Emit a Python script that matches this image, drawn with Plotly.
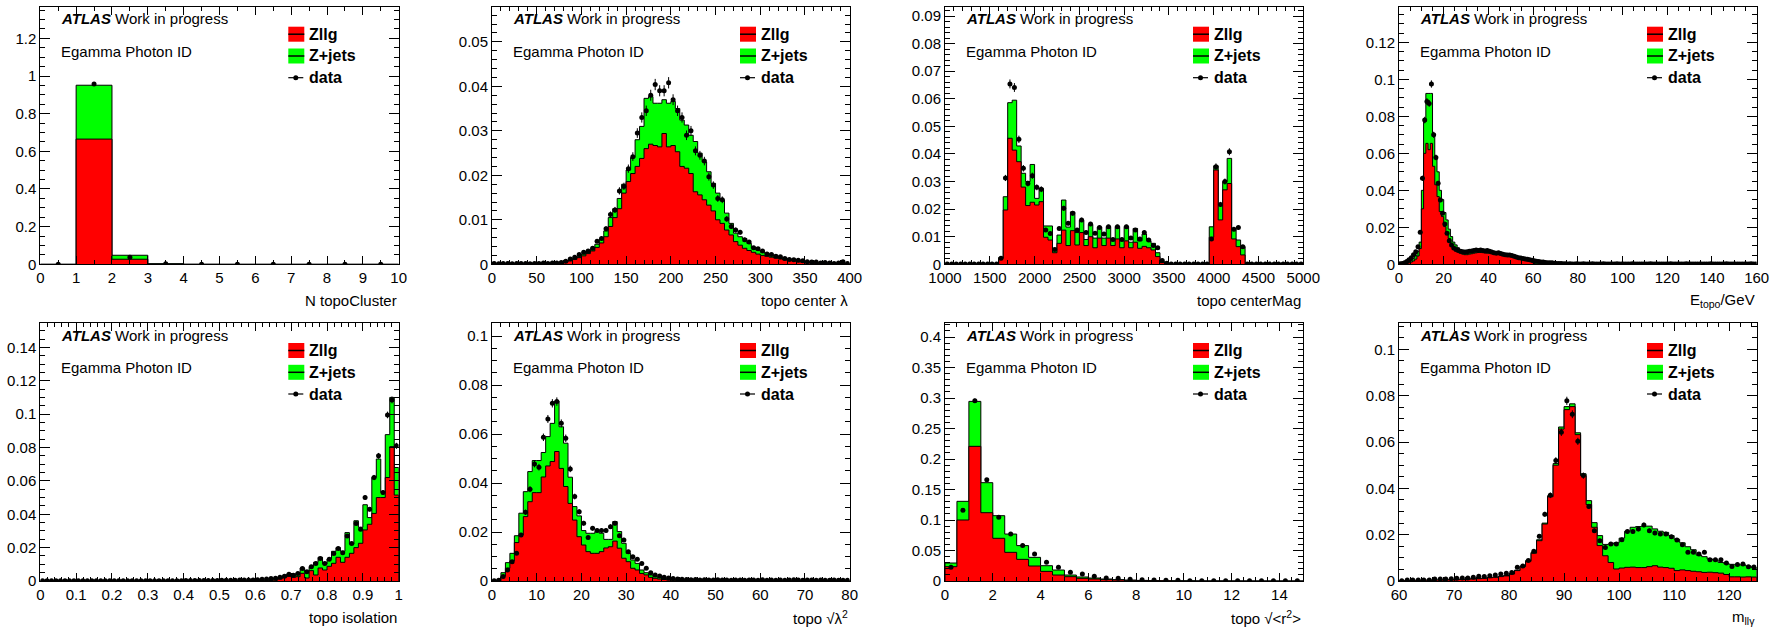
import numpy as np
import plotly.graph_objects as go

FONT = "Liberation Sans, Arial, Helvetica, sans-serif"
W, H = 1781, 628
N_EVENTS = 25000  # effective event count used for the data error bars

# ---------------- N topoCluster (bins of 1, 0..10) ----------------
NCLUS_ZLLG = [0.0, 0.665, 0.027, 0.002, 0.0, 0.0, 0.0, 0.0, 0.0, 0.0]
NCLUS_STACK = [0.0, 0.951, 0.048, 0.003, 0.0003, 0.0, 0.0, 0.0, 0.0, 0.0]
NCLUS_DATA = [0.0, 0.957, 0.038, 0.003, 0.0004, 0.0, 0.0, 0.0, 0.0, 0.0]

# ---------------- topo center lambda (bins of 5, 0..400) ----------------
LAM_ZLLG = [
    0.0, 0.0, 0.0, 0.0, 0.0, 0.0, 0.0, 0.0, 0.0001, 0.0001,
    0.0001, 0.0001, 0.0001, 0.0002, 0.0002, 0.0003, 0.0005, 0.0008, 0.0011, 0.0015,
    0.0019, 0.0024, 0.0030, 0.0038, 0.0048, 0.0062, 0.0085, 0.0105, 0.0125, 0.0160,
    0.0186, 0.0204, 0.0220, 0.0238, 0.0260, 0.0270, 0.0267, 0.0264, 0.0294, 0.0264,
    0.0267, 0.0253, 0.0220, 0.0216, 0.0204, 0.0163, 0.0156, 0.0145, 0.0133, 0.0120,
    0.0100, 0.0092, 0.0077, 0.0066, 0.0051, 0.0043, 0.0036, 0.0031, 0.0027, 0.0023,
    0.0020, 0.0018, 0.0016, 0.0014, 0.0012, 0.0010, 0.0009, 0.0008, 0.0006, 0.0005,
    0.0004, 0.0003, 0.0003, 0.0002, 0.0002, 0.0001, 0.0001, 0.0001, 0.0001, 0.0001]
LAM_STACK = [
    0.0001, 0.0001, 0.0001, 0.0001, 0.0001, 0.0001, 0.0001, 0.0001, 0.0001, 0.0001,
    0.0002, 0.0002, 0.0002, 0.0002, 0.0003, 0.0004, 0.0006, 0.0009, 0.0013, 0.0017,
    0.0023, 0.0028, 0.0034, 0.0045, 0.0057, 0.0075, 0.0105, 0.0125, 0.0148, 0.0180,
    0.0212, 0.0240, 0.0280, 0.0310, 0.0373, 0.0377, 0.0362, 0.0362, 0.0370, 0.0362,
    0.0366, 0.0350, 0.0324, 0.0313, 0.0290, 0.0276, 0.0250, 0.0230, 0.0208, 0.0182,
    0.0160, 0.0145, 0.0115, 0.0092, 0.0070, 0.0062, 0.0058, 0.0047, 0.0036, 0.0032,
    0.0028, 0.0024, 0.0021, 0.0018, 0.0015, 0.0013, 0.0012, 0.0010, 0.0009, 0.0007,
    0.0006, 0.0005, 0.0004, 0.0004, 0.0003, 0.0003, 0.0002, 0.0002, 0.0002, 0.0001]
LAM_DATA = [
    0.0002, 0.0001, 0.0002, 0.0002, 0.0001, 0.0002, 0.0002, 0.0002, 0.0001, 0.0002,
    0.0002, 0.0003, 0.0002, 0.0003, 0.0003, 0.0004, 0.0007, 0.0012, 0.0016, 0.0022,
    0.0027, 0.0030, 0.0036, 0.0052, 0.0058, 0.0080, 0.0112, 0.0122, 0.0165, 0.0175,
    0.0215, 0.0242, 0.0295, 0.0330, 0.0345, 0.0380, 0.0404, 0.0390, 0.0390, 0.0408,
    0.0370, 0.0345, 0.0330, 0.0290, 0.0300, 0.0255, 0.0245, 0.0232, 0.0197, 0.0178,
    0.0148, 0.0145, 0.0102, 0.0085, 0.0077, 0.0072, 0.0055, 0.0050, 0.0037, 0.0035,
    0.0030, 0.0023, 0.0022, 0.0018, 0.0017, 0.0013, 0.0011, 0.0010, 0.0009, 0.0008,
    0.0006, 0.0005, 0.0005, 0.0003, 0.0004, 0.0003, 0.0002, 0.0003, 0.0006, 0.0002]

# ---------------- topo centerMag (bins of 50, 1000..5000) ----------------
MAG_ZLLG = [
    0.0, 0.0, 0.0, 0.0, 0.0, 0.0, 0.0, 0.0, 0.0, 0.0,
    0.0, 0.0, 0.0022, 0.0197, 0.0457, 0.0414, 0.0372, 0.0280, 0.0213, 0.0225,
    0.0215, 0.0227, 0.0098, 0.0088, 0.0042, 0.0076, 0.0124, 0.0068, 0.0122, 0.0070,
    0.0115, 0.0068, 0.0100, 0.0060, 0.0095, 0.0068, 0.0095, 0.0068, 0.0092, 0.0060,
    0.0085, 0.0060, 0.0080, 0.0058, 0.0065, 0.0060, 0.0052, 0.0028, 0.0006, 0.0002,
    0.0, 0.0, 0.0, 0.0, 0.0, 0.0, 0.0, 0.0, 0.0, 0.0098,
    0.0342, 0.0161, 0.0270, 0.0293, 0.0092, 0.0064, 0.0034, 0.0, 0.0, 0.0,
    0.0, 0.0, 0.0, 0.0, 0.0, 0.0, 0.0, 0.0, 0.0, 0.0]
MAG_STACK = [
    0.0, 0.0, 0.0, 0.0, 0.0, 0.0, 0.0, 0.0, 0.0, 0.0,
    0.0, 0.0, 0.0025, 0.0245, 0.0586, 0.0595, 0.0429, 0.0330, 0.0300, 0.0362,
    0.0239, 0.0275, 0.0139, 0.0139, 0.0058, 0.0106, 0.0233, 0.0135, 0.0190, 0.0115,
    0.0160, 0.0090, 0.0145, 0.0095, 0.0135, 0.0095, 0.0137, 0.0090, 0.0137, 0.0088,
    0.0137, 0.0080, 0.0130, 0.0085, 0.0110, 0.0085, 0.0076, 0.0042, 0.0010, 0.0003,
    0.0, 0.0, 0.0, 0.0, 0.0, 0.0, 0.0, 0.0, 0.0, 0.0136,
    0.0357, 0.0215, 0.0300, 0.0384, 0.0127, 0.0088, 0.0064, 0.0, 0.0, 0.0,
    0.0, 0.0, 0.0, 0.0, 0.0, 0.0, 0.0, 0.0, 0.0, 0.0]
MAG_DATA = [
    0.0001, 0.0001, 0.0001, 0.0001, 0.0001, 0.0001, 0.0001, 0.0001, 0.0001, 0.0001,
    0.0001, 0.0001, 0.0022, 0.0313, 0.0654, 0.0641, 0.0453, 0.0348, 0.0293, 0.0321,
    0.0279, 0.0272, 0.0124, 0.0112, 0.0054, 0.0130, 0.0203, 0.0149, 0.0185, 0.0124,
    0.0161, 0.0115, 0.0146, 0.0113, 0.0133, 0.0110, 0.0136, 0.0090, 0.0136, 0.0090,
    0.0136, 0.0095, 0.0124, 0.0092, 0.0115, 0.0088, 0.0068, 0.0060, 0.0014, 0.0004,
    0.0001, 0.0001, 0.0001, 0.0001, 0.0001, 0.0001, 0.0001, 0.0001, 0.0001, 0.0092,
    0.0354, 0.0217, 0.0300, 0.0408, 0.0127, 0.0133, 0.0064, 0.0001, 0.0001, 0.0001,
    0.0001, 0.0001, 0.0001, 0.0001, 0.0001, 0.0001, 0.0001, 0.0001, 0.0001, 0.0001]

# ---------------- E_topo / GeV (bins of 1, 0..160) ----------------
ETOPO_ZLLG = [
    0.0001, 0.0002, 0.0003, 0.0005, 0.0008, 0.0012, 0.0018, 0.0028, 0.0045, 0.0085,
    0.0300, 0.0600, 0.0654, 0.0620, 0.0654, 0.0530, 0.0430, 0.0366, 0.0285, 0.0258,
    0.0204, 0.0168, 0.0140, 0.0114, 0.0095, 0.0077, 0.0068, 0.0060, 0.0055, 0.0052,
    0.0052, 0.0055, 0.0057, 0.0060, 0.0062, 0.0064, 0.0064, 0.0063, 0.0062, 0.0060,
    0.0060, 0.0058, 0.0055, 0.0054, 0.0052, 0.0050, 0.0049, 0.0047, 0.0044, 0.0042,
    0.0040, 0.0036, 0.0033, 0.0030, 0.0027, 0.0024, 0.0021, 0.0018, 0.0015, 0.0012,
    0.0004, 0.0002, 0.0001, 0.0001, 0.0, 0.0, 0.0, 0.0, 0.0, 0.0,
    0.0, 0.0, 0.0, 0.0, 0.0, 0.0, 0.0, 0.0, 0.0, 0.0,
    0.0, 0.0, 0.0, 0.0, 0.0, 0.0, 0.0, 0.0, 0.0, 0.0,
    0.0, 0.0, 0.0, 0.0, 0.0, 0.0, 0.0, 0.0, 0.0, 0.0,
    0.0, 0.0, 0.0, 0.0, 0.0, 0.0, 0.0, 0.0, 0.0, 0.0,
    0.0, 0.0, 0.0, 0.0, 0.0, 0.0, 0.0, 0.0, 0.0, 0.0,
    0.0, 0.0, 0.0, 0.0, 0.0, 0.0, 0.0, 0.0, 0.0, 0.0,
    0.0, 0.0, 0.0, 0.0, 0.0, 0.0, 0.0, 0.0, 0.0, 0.0,
    0.0, 0.0, 0.0, 0.0, 0.0, 0.0, 0.0, 0.0, 0.0, 0.0,
    0.0, 0.0, 0.0, 0.0, 0.0, 0.0, 0.0, 0.0, 0.0, 0.0]
ETOPO_STACK = [
    0.0002, 0.0003, 0.0005, 0.0008, 0.0013, 0.0020, 0.0032, 0.0048, 0.0070, 0.0120,
    0.0400, 0.0770, 0.0924, 0.0924, 0.0924, 0.0700, 0.0580, 0.0500, 0.0400, 0.0350,
    0.0280, 0.0240, 0.0190, 0.0150, 0.0120, 0.0105, 0.0090, 0.0080, 0.0075, 0.0070,
    0.0068, 0.0068, 0.0070, 0.0070, 0.0071, 0.0072, 0.0071, 0.0070, 0.0068, 0.0067,
    0.0066, 0.0064, 0.0062, 0.0060, 0.0058, 0.0056, 0.0054, 0.0052, 0.0049, 0.0046,
    0.0043, 0.0040, 0.0037, 0.0034, 0.0031, 0.0028, 0.0025, 0.0022, 0.0019, 0.0016,
    0.0012, 0.0011, 0.0010, 0.0009, 0.0008, 0.0007, 0.0006, 0.0005, 0.0004, 0.0004,
    0.0003, 0.0002, 0.0002, 0.0001, 0.0001, 0.0, 0.0, 0.0, 0.0, 0.0,
    0.0, 0.0, 0.0, 0.0, 0.0, 0.0, 0.0, 0.0, 0.0, 0.0,
    0.0, 0.0, 0.0, 0.0, 0.0, 0.0, 0.0, 0.0, 0.0, 0.0,
    0.0, 0.0, 0.0, 0.0, 0.0, 0.0, 0.0, 0.0, 0.0, 0.0,
    0.0, 0.0, 0.0, 0.0, 0.0, 0.0, 0.0, 0.0, 0.0, 0.0,
    0.0, 0.0, 0.0, 0.0, 0.0, 0.0, 0.0, 0.0, 0.0, 0.0,
    0.0, 0.0, 0.0, 0.0, 0.0, 0.0, 0.0, 0.0, 0.0, 0.0,
    0.0, 0.0, 0.0, 0.0, 0.0, 0.0, 0.0, 0.0, 0.0, 0.0,
    0.0, 0.0, 0.0, 0.0, 0.0, 0.0, 0.0, 0.0, 0.0, 0.0]
ETOPO_DATA = [
    0.0003, 0.0004, 0.0008, 0.0015, 0.0025, 0.0035, 0.0052, 0.0068, 0.0095, 0.0173,
    0.0465, 0.0780, 0.0880, 0.0870, 0.0975, 0.0700, 0.0578, 0.0438, 0.0348, 0.0276,
    0.0218, 0.0168, 0.0128, 0.0105, 0.0088, 0.0080, 0.0075, 0.0070, 0.0068, 0.0066,
    0.0068, 0.0070, 0.0072, 0.0075, 0.0077, 0.0075, 0.0078, 0.0074, 0.0072, 0.0075,
    0.0070, 0.0066, 0.0062, 0.0060, 0.0063, 0.0058, 0.0055, 0.0052, 0.0050, 0.0050,
    0.0047, 0.0043, 0.0040, 0.0036, 0.0034, 0.0032, 0.0028, 0.0027, 0.0024, 0.0022,
    0.0019, 0.0017, 0.0015, 0.0013, 0.0012, 0.0010, 0.0009, 0.0008, 0.0008, 0.0006,
    0.0005, 0.0005, 0.0004, 0.0003, 0.0003, 0.0002, 0.0003, 0.0002, 0.0002, 0.0003,
    0.0002, 0.0002, 0.0003, 0.0002, 0.0002, 0.0002, 0.0003, 0.0002, 0.0002, 0.0002,
    0.0002, 0.0003, 0.0002, 0.0002, 0.0002, 0.0002, 0.0002, 0.0003, 0.0002, 0.0002,
    0.0002, 0.0002, 0.0002, 0.0002, 0.0003, 0.0002, 0.0002, 0.0002, 0.0002, 0.0002,
    0.0002, 0.0002, 0.0003, 0.0002, 0.0002, 0.0002, 0.0002, 0.0002, 0.0002, 0.0002,
    0.0002, 0.0003, 0.0002, 0.0002, 0.0002, 0.0002, 0.0002, 0.0002, 0.0003, 0.0002,
    0.0002, 0.0002, 0.0002, 0.0002, 0.0002, 0.0002, 0.0002, 0.0002, 0.0002, 0.0003,
    0.0002, 0.0002, 0.0002, 0.0002, 0.0002, 0.0002, 0.0003, 0.0002, 0.0002, 0.0002,
    0.0002, 0.0002, 0.0002, 0.0002, 0.0002, 0.0002, 0.0002, 0.0003, 0.0002, 0.0002]

# ---------------- topo isolation (bins of 0.0125, 0..1) ----------------
ISO_ZLLG = [
    0.0, 0.0, 0.0, 0.0, 0.0, 0.0, 0.0, 0.0, 0.0, 0.0,
    0.0, 0.0, 0.0, 0.0, 0.0, 0.0, 0.0, 0.0, 0.0, 0.0,
    0.0, 0.0, 0.0, 0.0, 0.0, 0.0, 0.0, 0.0, 0.0, 0.0,
    0.0, 0.0, 0.0, 0.0, 0.0, 0.0, 0.0, 0.0, 0.0, 0.0,
    0.0, 0.0, 0.0, 0.0, 0.0, 0.0, 0.0, 0.0, 0.0001, 0.0001,
    0.0002, 0.0003, 0.0005, 0.0012, 0.0022, 0.0028, 0.0022, 0.0026, 0.0046, 0.0018,
    0.0062, 0.0036, 0.0078, 0.0066, 0.0088, 0.0106, 0.0142, 0.0112, 0.0142, 0.0166,
    0.0200, 0.0226, 0.0306, 0.0340, 0.0405, 0.0500, 0.0500, 0.0620, 0.0805, 0.0515]
ISO_STACK = [
    0.0, 0.0, 0.0, 0.0, 0.0, 0.0, 0.0, 0.0, 0.0, 0.0,
    0.0, 0.0, 0.0, 0.0, 0.0, 0.0, 0.0, 0.0, 0.0, 0.0,
    0.0, 0.0, 0.0, 0.0, 0.0, 0.0, 0.0, 0.0, 0.0, 0.0,
    0.0, 0.0, 0.0, 0.0, 0.0, 0.0, 0.0, 0.0, 0.0, 0.0,
    0.0, 0.0, 0.0, 0.0, 0.0, 0.0001, 0.0002, 0.0002, 0.0003, 0.0004,
    0.0005, 0.0006, 0.0008, 0.0022, 0.0030, 0.0042, 0.0032, 0.0046, 0.0078, 0.0052,
    0.0086, 0.0112, 0.0142, 0.0102, 0.0132, 0.0178, 0.0200, 0.0178, 0.0290, 0.0220,
    0.0361, 0.0322, 0.0457, 0.0380, 0.0621, 0.0731, 0.0530, 0.0877, 0.1100, 0.0680]
ISO_DATA = [
    0.0002, 0.0002, 0.0002, 0.0002, 0.0002, 0.0002, 0.0002, 0.0002, 0.0002, 0.0002,
    0.0002, 0.0002, 0.0002, 0.0002, 0.0002, 0.0002, 0.0002, 0.0002, 0.0002, 0.0002,
    0.0002, 0.0002, 0.0002, 0.0002, 0.0002, 0.0002, 0.0002, 0.0002, 0.0002, 0.0002,
    0.0002, 0.0002, 0.0003, 0.0003, 0.0003, 0.0003, 0.0003, 0.0003, 0.0003, 0.0003,
    0.0004, 0.0004, 0.0004, 0.0004, 0.0006, 0.0006, 0.0006, 0.0006, 0.0008, 0.0010,
    0.0012, 0.0015, 0.0016, 0.0022, 0.0028, 0.0040, 0.0035, 0.0045, 0.0075, 0.0055,
    0.0085, 0.0105, 0.0135, 0.0105, 0.0130, 0.0165, 0.0195, 0.0170, 0.0270, 0.0225,
    0.0345, 0.0310, 0.0500, 0.0430, 0.0620, 0.0750, 0.0530, 0.0995, 0.1085, 0.0810]

# ---------------- topo sqrt(lambda^2) (bins of 1, 0..80) ----------------
LAM2_ZLLG = [
    0.0, 0.0002, 0.0020, 0.0052, 0.0082, 0.0157, 0.0188, 0.0263, 0.0324, 0.0361,
    0.0361, 0.0425, 0.0470, 0.0488, 0.0529, 0.0460, 0.0386, 0.0317, 0.0249, 0.0181,
    0.0147, 0.0120, 0.0113, 0.0113, 0.0120, 0.0135, 0.0140, 0.0163, 0.0134, 0.0093,
    0.0079, 0.0052, 0.0045, 0.0031, 0.0025, 0.0015, 0.0011, 0.0008, 0.0006, 0.0004,
    0.0003, 0.0002, 0.0002, 0.0001, 0.0001, 0.0001, 0.0, 0.0, 0.0, 0.0,
    0.0, 0.0, 0.0, 0.0, 0.0, 0.0, 0.0, 0.0, 0.0, 0.0,
    0.0, 0.0, 0.0, 0.0, 0.0, 0.0, 0.0, 0.0, 0.0, 0.0,
    0.0, 0.0, 0.0, 0.0, 0.0, 0.0, 0.0, 0.0, 0.0, 0.0]
LAM2_STACK = [
    0.0001, 0.0004, 0.0034, 0.0075, 0.0113, 0.0185, 0.0277, 0.0365, 0.0447, 0.0492,
    0.0492, 0.0525, 0.0590, 0.0644, 0.0735, 0.0630, 0.0563, 0.0424, 0.0304, 0.0266,
    0.0206, 0.0195, 0.0195, 0.0202, 0.0195, 0.0170, 0.0170, 0.0243, 0.0202, 0.0154,
    0.0113, 0.0086, 0.0072, 0.0045, 0.0034, 0.0025, 0.0018, 0.0014, 0.0010, 0.0008,
    0.0006, 0.0004, 0.0003, 0.0003, 0.0002, 0.0002, 0.0001, 0.0001, 0.0001, 0.0001,
    0.0001, 0.0001, 0.0001, 0.0001, 0.0001, 0.0001, 0.0001, 0.0001, 0.0001, 0.0001,
    0.0001, 0.0001, 0.0001, 0.0001, 0.0001, 0.0001, 0.0001, 0.0001, 0.0001, 0.0001,
    0.0001, 0.0001, 0.0001, 0.0001, 0.0001, 0.0001, 0.0001, 0.0001, 0.0001, 0.0001]
LAM2_DATA = [
    0.0001, 0.0003, 0.0018, 0.0045, 0.0079, 0.0113, 0.0188, 0.0281, 0.0375, 0.0478,
    0.0465, 0.0587, 0.0662, 0.0726, 0.0733, 0.0644, 0.0583, 0.0458, 0.0345, 0.0283,
    0.0236, 0.0178, 0.0215, 0.0206, 0.0206, 0.0206, 0.0222, 0.0236, 0.0185, 0.0168,
    0.0120, 0.0099, 0.0089, 0.0072, 0.0052, 0.0034, 0.0025, 0.0020, 0.0015, 0.0012,
    0.0010, 0.0008, 0.0007, 0.0006, 0.0005, 0.0006, 0.0004, 0.0005, 0.0004, 0.0004,
    0.0005, 0.0004, 0.0004, 0.0003, 0.0004, 0.0004, 0.0003, 0.0004, 0.0004, 0.0003,
    0.0005, 0.0003, 0.0004, 0.0003, 0.0004, 0.0003, 0.0004, 0.0005, 0.0004, 0.0003,
    0.0004, 0.0004, 0.0003, 0.0004, 0.0003, 0.0003, 0.0004, 0.0003, 0.0003, 0.0003]

# ---------------- topo sqrt(<r^2>) (bins of 0.5, 0..15) ----------------
R2_ZLLG = [
    0.0235, 0.1000, 0.2208, 0.1120, 0.0700, 0.0470, 0.0355, 0.0246, 0.0158, 0.0098,
    0.0071, 0.0044, 0.0033, 0.0022, 0.0016, 0.0010, 0.0007, 0.0005, 0.0003, 0.0002,
    0.0002, 0.0001, 0.0001, 0.0001, 0.0001, 0.0, 0.0, 0.0, 0.0, 0.0]
R2_STACK = [
    0.0295, 0.1306, 0.2945, 0.1612, 0.1071, 0.0770, 0.0580, 0.0388, 0.0251, 0.0180,
    0.0098, 0.0066, 0.0049, 0.0033, 0.0022, 0.0015, 0.0010, 0.0007, 0.0005, 0.0004,
    0.0003, 0.0002, 0.0002, 0.0002, 0.0001, 0.0001, 0.0001, 0.0001, 0.0001, 0.0001]
R2_DATA = [
    0.0224, 0.1158, 0.2956, 0.1661, 0.1044, 0.0770, 0.0580, 0.0443, 0.0306, 0.0224,
    0.0142, 0.0115, 0.0077, 0.0049, 0.0044, 0.0027, 0.0022, 0.0016, 0.0011, 0.0011,
    0.0005, 0.0005, 0.0005, 0.0004, 0.0004, 0.0003, 0.0003, 0.0003, 0.0003, 0.0003]

# ---------------- m_llgamma (bins of 1, 60..125) ----------------
MLLG_ZLLG = [
    0.0001, 0.0002, 0.0002, 0.0003, 0.0003, 0.0003, 0.0004, 0.0004, 0.0005, 0.0005,
    0.0006, 0.0007, 0.0008, 0.0009, 0.0010, 0.0012, 0.0014, 0.0016, 0.0019, 0.0022,
    0.0030, 0.0045, 0.0062, 0.0085, 0.0120, 0.0174, 0.0246, 0.0364, 0.0500, 0.0656,
    0.0740, 0.0753, 0.0632, 0.0455, 0.0330, 0.0232, 0.0153, 0.0109, 0.0080, 0.0052,
    0.0056, 0.0059, 0.0060, 0.0058, 0.0058, 0.0062, 0.0066, 0.0060, 0.0058, 0.0055,
    0.0045, 0.0048, 0.0045, 0.0042, 0.0040, 0.0037, 0.0038, 0.0036, 0.0034, 0.0028,
    0.0018, 0.0018, 0.0017, 0.0018, 0.0017]
MLLG_STACK = [
    0.0001, 0.0002, 0.0002, 0.0003, 0.0003, 0.0004, 0.0004, 0.0005, 0.0005, 0.0006,
    0.0007, 0.0008, 0.0009, 0.0010, 0.0011, 0.0013, 0.0015, 0.0017, 0.0020, 0.0024,
    0.0032, 0.0047, 0.0065, 0.0088, 0.0124, 0.0178, 0.0250, 0.0368, 0.0507, 0.0665,
    0.0753, 0.0765, 0.0640, 0.0463, 0.0347, 0.0252, 0.0196, 0.0158, 0.0160, 0.0165,
    0.0185, 0.0215, 0.0232, 0.0235, 0.0237, 0.0237, 0.0225, 0.0215, 0.0210, 0.0196,
    0.0180, 0.0165, 0.0148, 0.0135, 0.0112, 0.0105, 0.0095, 0.0090, 0.0080, 0.0075,
    0.0072, 0.0070, 0.0070, 0.0065, 0.0058]
MLLG_DATA = [
    0.0001, 0.0004, 0.0004, 0.0004, 0.0004, 0.0004, 0.0009, 0.0009, 0.0009, 0.0010,
    0.0012, 0.0013, 0.0013, 0.0016, 0.0020, 0.0019, 0.0023, 0.0026, 0.0030, 0.0033,
    0.0037, 0.0059, 0.0065, 0.0088, 0.0128, 0.0193, 0.0288, 0.0370, 0.0520, 0.0642,
    0.0778, 0.0720, 0.0603, 0.0455, 0.0322, 0.0217, 0.0174, 0.0145, 0.0160, 0.0160,
    0.0178, 0.0214, 0.0214, 0.0224, 0.0242, 0.0217, 0.0207, 0.0203, 0.0203, 0.0191,
    0.0177, 0.0157, 0.0124, 0.0124, 0.0117, 0.0124, 0.0092, 0.0092, 0.0092, 0.0078,
    0.0063, 0.0071, 0.0073, 0.0062, 0.0060]

LEGEND_LABELS = ["Zllg", "Z+jets", "data"]

PANELS = [
    dict(zllg=NCLUS_ZLLG, stack=NCLUS_STACK, data=NCLUS_DATA, xr=(0, 10), ymax=1.368,
         xd=1, xm=0.5, yd=0.2, ym=0.05, title="N topoCluster"),
    dict(zllg=LAM_ZLLG, stack=LAM_STACK, data=LAM_DATA, xr=(0, 400), ymax=0.0579,
         xd=50, xm=10, yd=0.01, ym=0.002, title="topo center λ"),
    dict(zllg=MAG_ZLLG, stack=MAG_STACK, data=MAG_DATA, xr=(1000, 5000), ymax=0.0934,
         xd=500, xm=100, yd=0.01, ym=0.002, title="topo centerMag"),
    dict(zllg=ETOPO_ZLLG, stack=ETOPO_STACK, data=ETOPO_DATA, xr=(0, 160), ymax=0.1393,
         xd=20, xm=5, yd=0.02, ym=0.005, title="E<sub>topo</sub>/GeV"),
    dict(zllg=ISO_ZLLG, stack=ISO_STACK, data=ISO_DATA, xr=(0, 1), ymax=0.1546,
         xd=0.1, xm=0.02, yd=0.02, ym=0.005, title="topo isolation"),
    dict(zllg=LAM2_ZLLG, stack=LAM2_STACK, data=LAM2_DATA, xr=(0, 80), ymax=0.1054,
         xd=10, xm=2, yd=0.02, ym=0.005, title="topo √λ<sup>2</sup>"),
    dict(zllg=R2_ZLLG, stack=R2_STACK, data=R2_DATA, xr=(0, 15), ymax=0.423,
         xd=2, xm=0.5, yd=0.05, ym=0.01, title="topo √&lt;r<sup>2</sup>&gt;"),
    dict(zllg=MLLG_ZLLG, stack=MLLG_STACK, data=MLLG_DATA, xr=(60, 125), ymax=0.1114,
         xd=10, xm=2, yd=0.02, ym=0.005, title="m<sub>llγ</sub>"),
]

# plot-area pixel boxes (layout)
COLS_PX = [(40.3, 398.7), (492.0, 849.7), (945.0, 1303.3), (1399.0, 1756.7)]
ROWS_PX = [(6.7, 264.3), (323.0, 581.0)]

RED = "#ff0000"
GREEN = "#00ff00"


def px(xp):
    return xp / W


def py(yp):
    return 1 - yp / H


fig = go.Figure()
layout = dict(width=W, height=H, margin=dict(l=0, r=0, t=0, b=0),
              paper_bgcolor="white", plot_bgcolor="white", showlegend=False)
annotations = []
shapes = []

for k, p in enumerate(PANELS):
    n = k + 1
    xr = "x" if n == 1 else f"x{n}"
    yr = "y" if n == 1 else f"y{n}"
    col = k % 4
    row = k // 4
    x0, x1 = COLS_PX[col]
    y0, y1 = ROWS_PX[row]

    zllg = np.array(p["zllg"], dtype=float)
    stack = np.array(p["stack"], dtype=float)
    data = np.array(p["data"], dtype=float)
    nb = len(zllg)
    edges = np.linspace(p["xr"][0], p["xr"][1], nb + 1)
    centers = 0.5 * (edges[:-1] + edges[1:])
    sx = np.concatenate([[edges[0]], edges[:-1], [edges[-1], edges[-1]]])

    def sy(v):
        return np.concatenate([[0.0], v, [v[-1], 0.0]])

    fig.add_trace(go.Scatter(x=sx, y=sy(stack), mode="lines",
                             line=dict(color="black", width=1, shape="hv"),
                             fill="tozeroy", fillcolor=GREEN, name="Z+jets",
                             xaxis=xr, yaxis=yr, hoverinfo="skip"))
    fig.add_trace(go.Scatter(x=sx, y=sy(zllg), mode="lines",
                             line=dict(color="black", width=1, shape="hv"),
                             fill="tozeroy", fillcolor=RED, name="Zllg",
                             xaxis=xr, yaxis=yr, hoverinfo="skip"))
    err = np.sqrt(data / N_EVENTS)
    fig.add_trace(go.Scatter(x=centers, y=data, mode="markers",
                             marker=dict(color="black", size=5),
                             error_y=dict(type="data", array=err, color="black",
                                          thickness=1, width=0),
                             name="data", xaxis=xr, yaxis=yr, hoverinfo="skip"))

    base = dict(showline=True, linecolor="black", linewidth=1, mirror="ticks",
                ticks="inside", tickcolor="black", tickwidth=1, showgrid=False,
                zeroline=False, automargin=False,
                tickfont=dict(family=FONT, size=15, color="black"))
    xkey = "xaxis" if n == 1 else f"xaxis{n}"
    ykey = "yaxis" if n == 1 else f"yaxis{n}"
    layout[xkey] = dict(base, domain=[px(x0), px(x1)], range=list(p["xr"]),
                        tick0=p["xr"][0], dtick=p["xd"], ticklen=8, anchor=yr,
                        minor=dict(ticks="inside", ticklen=4, dtick=p["xm"],
                                   tick0=p["xr"][0], tickcolor="black", showgrid=False))
    layout[ykey] = dict(base, domain=[py(y1), py(y0)], range=[0, p["ymax"]],
                        tick0=0, dtick=p["yd"], ticklen=10, anchor=xr,
                        minor=dict(ticks="inside", ticklen=5, dtick=p["ym"],
                                   tick0=0, tickcolor="black", showgrid=False))

    # texts
    annotations.append(dict(text="<b><i>ATLAS</i></b> Work in progress",
                            x=px(x0 + 19), y=py(y0 + 12), xref="paper", yref="paper",
                            xanchor="left", yanchor="middle", showarrow=False,
                            font=dict(family=FONT, size=15, color="black")))
    annotations.append(dict(text="Egamma Photon ID",
                            x=px(x0 + 19), y=py(y0 + 44.5), xref="paper", yref="paper",
                            xanchor="left", yanchor="middle", showarrow=False,
                            font=dict(family=FONT, size=15, color="black")))
    annotations.append(dict(text=p["title"], x=px(x1), y=py(y1 + 36),
                            xref="paper", yref="paper", xanchor="right",
                            yanchor="middle", showarrow=False,
                            font=dict(family=FONT, size=15, color="black")))

    # manual legend
    rows_off = [27.5, 49.3, 71.0]
    bx0, bx1 = x0 + 248, x0 + 264
    for j, lab in enumerate(LEGEND_LABELS):
        cy = y0 + rows_off[j]
        annotations.append(dict(text=f"<b>{lab}</b>", x=px(x0 + 267), y=py(cy),
                                xref="paper", yref="paper", xanchor="left",
                                yanchor="middle", showarrow=False,
                                font=dict(family=FONT, size=16, color="black")))
        if j < 2:
            shapes.append(dict(type="rect", xref="paper", yref="paper",
                               x0=px(bx0), x1=px(bx1), y0=py(cy + 7.5), y1=py(cy - 7.5),
                               fillcolor=RED if j == 0 else GREEN, line=dict(width=0)))
            shapes.append(dict(type="line", xref="paper", yref="paper",
                               x0=px(bx0), x1=px(bx1), y0=py(cy), y1=py(cy),
                               line=dict(color="black", width=1.5)))
        else:
            shapes.append(dict(type="line", xref="paper", yref="paper",
                               x0=px(bx0), x1=px(bx1 - 1), y0=py(cy), y1=py(cy),
                               line=dict(color="black", width=1.2)))
            cx = 0.5 * (bx0 + bx1 - 1)
            shapes.append(dict(type="circle", xref="paper", yref="paper",
                               x0=px(cx - 2.5), x1=px(cx + 2.5),
                               y0=py(cy + 2.5), y1=py(cy - 2.5),
                               fillcolor="black", line=dict(color="black", width=0)))

layout["annotations"] = annotations
layout["shapes"] = shapes
fig.update_layout(**layout)
fig.write_html("out.html")
